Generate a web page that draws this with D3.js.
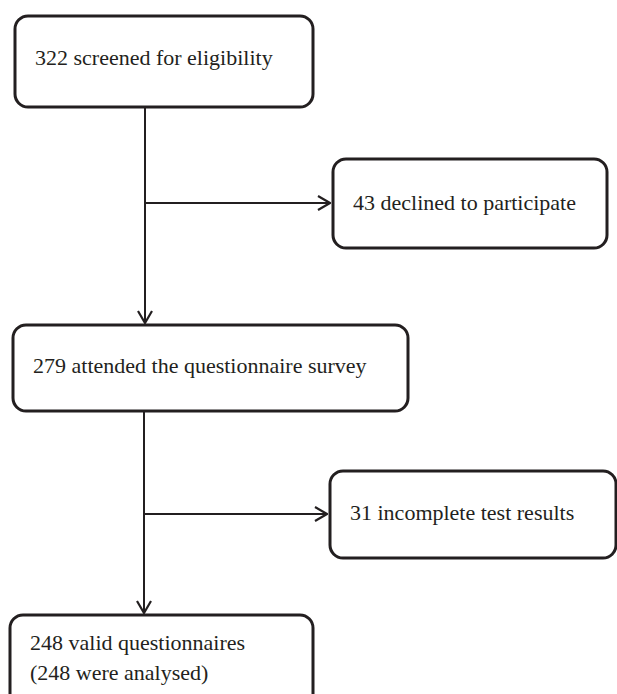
<!DOCTYPE html>
<html>
<head>
<meta charset="utf-8">
<script src="https://cdn.jsdelivr.net/npm/d3@7"></script>
<style>
  html, body { margin: 0; padding: 0; background: #fff; }
  svg { display: block; }
  text { font-family: "Liberation Serif", "Times New Roman", serif; fill: #231f20; }
</style>
</head>
<body>
<div id="flow"></div>
<script>
// Participant flow

// main steps (left column), top to bottom
const mainSteps = [
  ['322 screened for eligibility'],
  ['279 attended the questionnaire survey'],
  ['248 valid questionnaires', '(248 were analysed)']
];

// exclusions branching off between main steps
const exclusions = [
  ['43 declined to participate'],
  ['31 incomplete test results']
];

const width = 617;
const height = 694;
const ink = '#231f20';

const svg = d3.select('#flow')
  .append('svg')
  .attr('width', width)
  .attr('height', height);

// open chevron arrowhead
svg.append('defs')
  .append('marker')
  .attr('id', 'arrow')
  .attr('viewBox', '0 0 14 16')
  .attr('refX', 13)
  .attr('refY', 8)
  .attr('markerWidth', 14)
  .attr('markerHeight', 16)
  .attr('markerUnits', 'userSpaceOnUse')
  .attr('orient', 'auto')
  .append('path')
  .attr('d', 'M1,1 L13,8 L1,15')
  .attr('fill', 'none')
  .attr('stroke', ink)
  .attr('stroke-width', 2.2);

// box geometry for each column
const mainBoxes = [
  { x: 15, y: 16, w: 298, h: 91, ty: 49 },
  { x: 13, y: 325, w: 395, h: 86, ty: 48 },
  { x: 10, y: 615, w: 303, h: 92, ty: 35 }
];
const sideBoxes = [
  { x: 333, y: 159, w: 274, h: 89, ty: 51 },
  { x: 330, y: 471, w: 286, h: 87, ty: 49 }
];

const trunkX = [145, 144];

function drawBoxes(labels, boxes, cls) {
  const g = svg.selectAll('.' + cls)
    .data(labels.map((lines, i) => ({ lines, box: boxes[i] })))
    .join('g')
    .attr('class', cls)
    .attr('transform', d => `translate(${d.box.x},${d.box.y})`);

  g.append('rect')
    .attr('width', d => d.box.w)
    .attr('height', d => d.box.h)
    .attr('rx', 13)
    .attr('fill', '#fff')
    .attr('stroke', ink)
    .attr('stroke-width', 3);

  g.append('text')
    .attr('x', 20)
    .attr('y', d => d.box.ty)
    .attr('font-size', 22)
    .selectAll('tspan')
    .data(d => d.lines)
    .join('tspan')
    .attr('x', 20)
    .attr('dy', (d, i) => i === 0 ? 0 : 30)
    .text(d => d);
}

// connectors: vertical trunk between main steps, horizontal branch to exclusion
exclusions.forEach((ex, i) => {
  const top = mainBoxes[i];
  const bottom = mainBoxes[i + 1];
  const side = sideBoxes[i];
  const x = trunkX[i];
  const branchY = side.y + side.h / 2 - 0.5;

  svg.append('line')
    .attr('x1', x).attr('y1', top.y + top.h)
    .attr('x2', x).attr('y2', bottom.y - 2)
    .attr('stroke', ink)
    .attr('stroke-width', 2)
    .attr('marker-end', 'url(#arrow)');

  svg.append('line')
    .attr('x1', x).attr('y1', branchY)
    .attr('x2', side.x - 3).attr('y2', branchY)
    .attr('stroke', ink)
    .attr('stroke-width', 2)
    .attr('marker-end', 'url(#arrow)');
});

drawBoxes(mainSteps, mainBoxes, 'main-step');
drawBoxes(exclusions, sideBoxes, 'exclusion');
</script>
</body>
</html>
